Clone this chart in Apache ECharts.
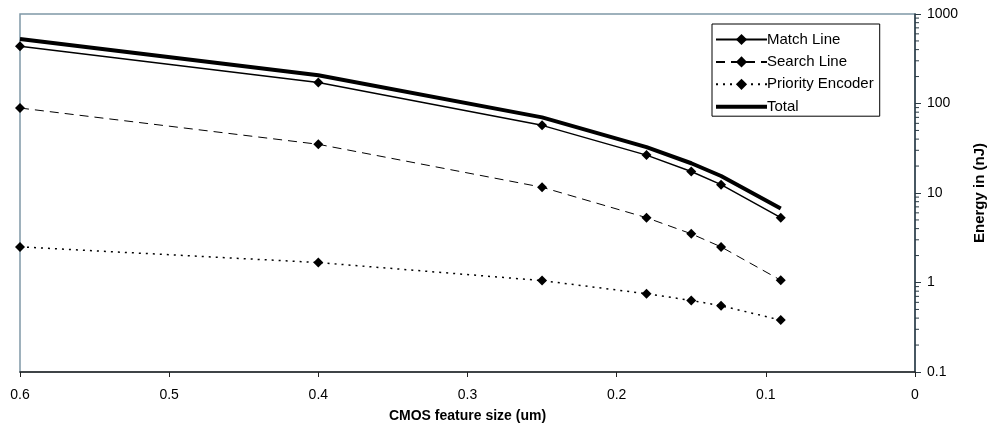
<!DOCTYPE html>
<html>
<head>
<meta charset="utf-8">
<script src="https://cdn.jsdelivr.net/npm/echarts@6/dist/echarts.min.js"></script>
<style>
  html,body{margin:0;padding:0;background:#fff;}
  #chart{width:988px;height:429px;}
</style>
</head>
<body>
<div id="chart"></div>
<script>
// feature size (um)
const sizes = [0.6, 0.4, 0.25, 0.18, 0.15, 0.13, 0.09];
// energy in nJ
const matchLine = [435, 172, 57, 26.5, 17.4, 12.4, 5.3];
const searchLine = [89, 35, 11.6, 5.3, 3.5, 2.5, 1.06];
const priorityEncoder = [2.5, 1.67, 1.05, 0.75, 0.63, 0.55, 0.38];
const total = [525, 207, 70, 32.5, 21.5, 15.5, 6.7];
const minorTicks = [0.2,0.3,0.4,0.5,0.6,0.7,0.8,0.9, 2,3,4,5,6,7,8,9, 20,30,40,50,60,70,80,90, 200,300,400,500,600,700,800,900];

const FONT = '"Liberation Sans", Arial, sans-serif';
const pairs = vals => sizes.map((x, i) => [x, vals[i]]);

const chart = echarts.init(document.getElementById('chart'));
const diamond = {symbol:'diamond', symbolSize:10, showSymbol:true, itemStyle:{color:'#000'}};

chart.setOption({
  animation:false,
  textStyle:{fontFamily:FONT},
  grid:{left:20, right:73, top:14, bottom:57, outerBoundsMode:'none', containLabel:false,
    show:true, borderColor:'#7f98a6', borderWidth:1.5},
  legend:{
    orient:'vertical', left:712, top:24, padding:[8,6,2,3],
    itemWidth:51, itemHeight:14, itemGap:7.4,
    borderColor:'#000', borderWidth:1, borderRadius:0,
    backgroundColor:'#fff',
    textStyle:{fontFamily:FONT, fontSize:15, color:'#000', padding:[0,0,0,-5]},
    data:['Match Line','Search Line','Priority Encoder',
      {name:'Total', icon:'path://M0,0H51V4H0Z'}]
  },
  xAxis:{
    type:'value', inverse:true, min:0, max:0.6, interval:0.1,
    name:'CMOS feature size (um)', nameLocation:'middle', nameGap:37,
    nameTextStyle:{fontFamily:FONT, fontSize:14, fontWeight:'bold', color:'#000'},
    axisLine:{show:true, lineStyle:{color:'#222', width:1.5}},
    axisTick:{show:true, length:5, lineStyle:{color:'#222'}},
    axisLabel:{color:'#000', fontSize:14, margin:16, formatter:v => String(+v.toFixed(1))},
    splitLine:{show:false}
  },
  yAxis:{
    type:'log', logBase:10, min:0.1, max:1000, position:'right',
    name:'Energy in (nJ)', nameLocation:'middle', nameGap:57, nameRotate:90,
    nameTextStyle:{fontFamily:FONT, fontSize:15, fontWeight:'bold', color:'#000'},
    axisLine:{show:true, lineStyle:{color:'#2a3a44', width:1.5}},
    axisTick:{show:true, length:6, lineStyle:{color:'#2a3a44'}},
    axisLabel:{color:'#000', fontSize:14, margin:12, formatter:v => String(v)},
    splitLine:{show:false}
  },
  series:[
    {name:'Match Line', type:'line', data:pairs(matchLine), ...diamond,
      lineStyle:{color:'#000', width:1.5, type:'solid'}},
    {name:'Search Line', type:'line', data:pairs(searchLine), ...diamond,
      lineStyle:{color:'#000', width:1, type:[9,6]}},
    {name:'Priority Encoder', type:'line', data:pairs(priorityEncoder), ...diamond,
      lineStyle:{color:'#000', width:1.5, type:[2,5]}},
    {name:'Total', type:'line', data:pairs(total), symbol:'none', showSymbol:false,
      itemStyle:{color:'#000'}, lineStyle:{color:'#000', width:4}},
    {type:'custom', silent:true, clip:false, data:minorTicks.map(v => [0, v]),
      renderItem:(params, api) => {
        const p = api.coord([0, api.value(1)]);
        return {type:'line', shape:{x1:p[0], y1:p[1], x2:p[0]+4, y2:p[1]},
          style:{stroke:'#2a3a44', lineWidth:1}};
      }}
  ]
});
</script>
</body>
</html>
